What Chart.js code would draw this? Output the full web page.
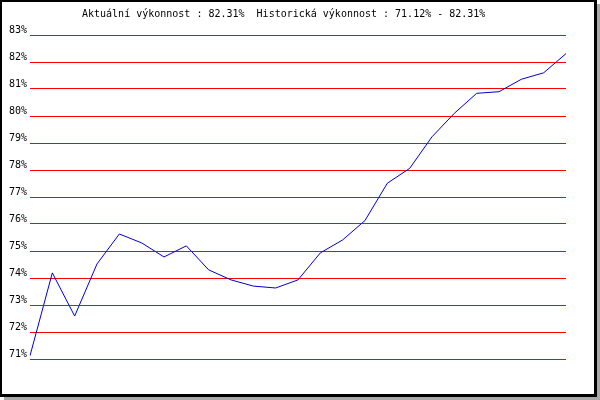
<!DOCTYPE html>
<html>
<head>
<meta charset="utf-8">
<script src="https://cdn.jsdelivr.net/npm/chart.js@4/dist/chart.umd.min.js"></script>
<style>
  html, body { margin: 0; padding: 0; background: #fff; }
  #wrap { width: 600px; height: 400px; }
</style>
</head>
<body>
<div id="wrap"><canvas id="perf" width="600" height="400"></canvas></div>
<script>
const titleText = 'Aktuální výkonnost : 82.31%  Historická výkonnost : 71.12% - 82.31%';
const periods = ['1', '2', '3', '4', '5', '6', '7', '8', '9', '10', '11', '12', '13',
                 '14', '15', '16', '17', '18', '19', '20', '21', '22', '23', '24', '25'];
const performance = [71.12, 74.19, 72.59, 74.52, 75.63, 75.30, 74.78, 75.19, 74.30, 73.93,
                     73.70, 73.63, 73.93, 74.93, 75.41, 76.13, 77.51, 78.06, 79.23, 80.10,
                     80.84, 80.90, 81.36, 81.60, 82.31];
const yMin = 71;
const yMax = 83;

const FONT = '10px "DejaVu Sans Mono", monospace';

// frame with shadow + title + tick labels sitting just above their lines
const framePlugin = {
    id: 'frame',
    beforeDraw(chart) {
        const ctx = chart.ctx;
        ctx.save();
        ctx.fillStyle = '#a9a9a9';
        ctx.fillRect(4, 4, 596, 396);
        ctx.fillStyle = '#000';
        ctx.fillRect(0, 0, 597, 397);
        ctx.fillStyle = '#fff';
        ctx.fillRect(2, 2, 592, 392);
        ctx.restore();
    },
    afterDraw(chart) {
        const ctx = chart.ctx;
        const y = chart.scales.y;
        ctx.save();
        ctx.font = FONT;
        ctx.fillStyle = '#000';
        ctx.textAlign = 'left';
        ctx.textBaseline = 'alphabetic';
        ctx.fillText(titleText, 82, 17);
        ctx.textAlign = 'right';
        y.ticks.forEach(t => {
            const py = y.getPixelForValue(t.value);
            ctx.fillText(t.value + '%', 27, py - 2);
        });
        ctx.restore();
    }
};

new Chart(document.getElementById('perf').getContext('2d'), {
    type: 'line',
    data: {
        labels: periods,
        datasets: [{
            data: performance,
            borderColor: '#0000cc',
            borderWidth: 1,
            pointRadius: 0,
            tension: 0,
            fill: false
        }]
    },
    options: {
        responsive: false,
        animation: false,
        layout: { padding: { top: 35, bottom: 41, right: 34, left: 0 } },
        plugins: {
            legend: { display: false },
            title: { display: false },
            tooltip: { enabled: false }
        },
        scales: {
            x: { display: false, offset: false },
            y: {
                min: yMin,
                max: yMax,
                ticks: { display: false, stepSize: 1 },
                grid: { color: '#ff0000', lineWidth: 1, drawTicks: false },
                border: { display: false },
                afterFit(scale) { scale.width = 30; }
            }
        }
    },
    plugins: [framePlugin]
});
</script>
</body>
</html>
